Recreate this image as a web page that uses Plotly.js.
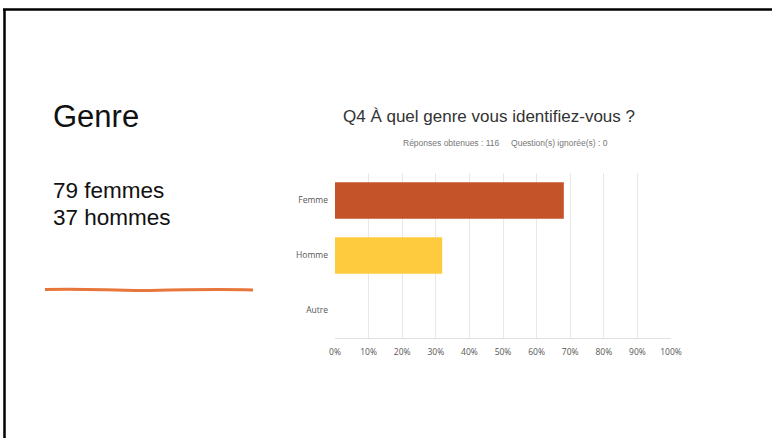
<!DOCTYPE html>
<html>
<head>
<meta charset="utf-8">
<script src="https://cdn.plot.ly/plotly-3.0.1.min.js"></script>
<style>html,body{margin:0;padding:0;background:#fff;}#chart{width:772px;height:438px;}</style>
</head>
<body>
<div id="chart"></div>
<script>
const categories = ['Femme', 'Homme', 'Autre'];
const percents = [68.1, 31.9, 0];
const barColors = ['#C4532A', '#FECB3E', '#cccccc'];
const xTickValues = [0, 10, 20, 30, 40, 50, 60, 70, 80, 90, 100];
const xTickLabels = ['0%', '10%', '20%', '30%', '40%', '50%', '60%', '70%', '80%', '90%', '100%'];
const slideTitle = 'Genre';
const slideLines = ['79 femmes', '37 hommes'];
const chartTitle = 'Q4 À quel genre vous identifiez-vous ?';
const chartSubtitle = 'Réponses obtenues : 116&nbsp;&nbsp;&nbsp;&nbsp;&nbsp;Question(s) ignorée(s) : 0';

const W = 772, H = 438;
const px = v => v / W;
const py = v => 1 - v / H;

const trace = {
  type: 'bar',
  orientation: 'h',
  y: categories,
  x: percents,
  marker: {color: barColors, line: {width: 0}},
  width: 0.66,
  hoverinfo: 'skip'
};

const tickFont = {size: 8.5, color: '#555', family: '"Open Sans", Lato, sans-serif'};
const slideFont = '"Liberation Sans", Arial, sans-serif';

const layout = {
  width: W, height: H,
  margin: {l: 0, r: 0, t: 0, b: 0},
  paper_bgcolor: '#ffffff',
  plot_bgcolor: '#ffffff',
  showlegend: false,
  font: {family: '"Open Sans", Lato, sans-serif', color: '#555'},
  xaxis: {
    domain: [px(335), px(671)],
    range: [0, 100],
    tickvals: xTickValues,
    ticktext: xTickLabels,
    showgrid: true, gridcolor: '#e8e8e8', gridwidth: 1,
    zeroline: false,
    showline: true, linecolor: '#e0e0e0', linewidth: 1,
    ticks: '', ticklabelstandoff: 6,
    tickfont: tickFont,
    fixedrange: true
  },
  yaxis: {
    domain: [py(338), py(173)],
    type: 'category',
    categoryorder: 'array', categoryarray: categories,
    range: [2.5, -0.5],
    showgrid: false, zeroline: false,
    showline: false,
    ticks: '', ticklabelstandoff: 6,
    tickfont: tickFont,
    fixedrange: true
  },
  shapes: [
    {type: 'line', xref: 'paper', yref: 'paper', x0: px(3), x1: 1, y0: py(9.5), y1: py(9.5), line: {color: '#000', width: 2.5}},
    {type: 'line', xref: 'paper', yref: 'paper', x0: px(4.5), x1: px(4.5), y0: py(9), y1: 0, line: {color: '#000', width: 2.5}},
    {type: 'path', xref: 'paper', yref: 'paper',
      path: 'M ' + px(45) + ',' + py(289.5) + ' C ' + px(90) + ',' + py(288) + ' ' + px(110) + ',' + py(291) + ' ' + px(150) + ',' + py(290.5) +
            ' C ' + px(190) + ',' + py(289.5) + ' ' + px(220) + ',' + py(289) + ' ' + px(253) + ',' + py(290),
      line: {color: '#E8753A', width: 3}}
  ],
  annotations: [
    {xref: 'paper', yref: 'paper', x: px(51), y: py(116), xanchor: 'left', yanchor: 'middle', showarrow: false,
      text: slideTitle, font: {family: slideFont, size: 31, color: '#111'}},
    {xref: 'paper', yref: 'paper', x: px(51), y: py(190), xanchor: 'left', yanchor: 'middle', showarrow: false,
      text: slideLines[0], font: {family: slideFont, size: 22.5, color: '#111'}},
    {xref: 'paper', yref: 'paper', x: px(51), y: py(217), xanchor: 'left', yanchor: 'middle', showarrow: false,
      text: slideLines[1], font: {family: slideFont, size: 22.5, color: '#111'}},
    {xref: 'paper', yref: 'paper', x: px(489), y: py(117), xanchor: 'center', yanchor: 'middle', showarrow: false,
      text: chartTitle, font: {family: slideFont, size: 17, color: '#333'}},
    {xref: 'paper', yref: 'paper', x: px(505), y: py(143), xanchor: 'center', yanchor: 'middle', showarrow: false,
      text: chartSubtitle, font: {family: slideFont, size: 8.5, color: '#777'}}
  ]
};

Plotly.newPlot('chart', [trace], layout, {displayModeBar: false, staticPlot: true});
</script>
</body>
</html>
